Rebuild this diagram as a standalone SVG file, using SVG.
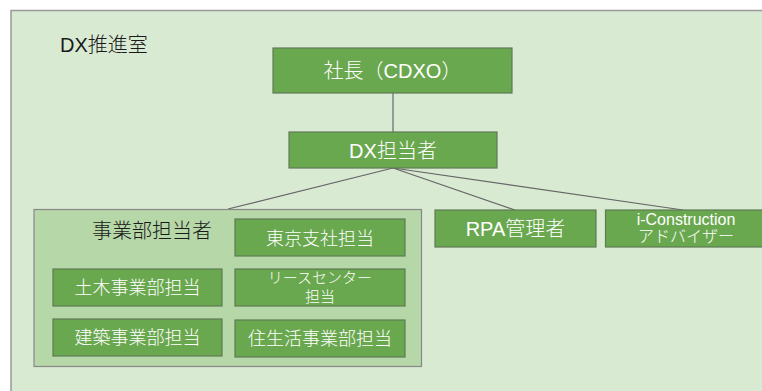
<svg xmlns="http://www.w3.org/2000/svg" width="762" height="391" viewBox="0 0 762 391">
<style>
.t{font-family:"Liberation Sans","Noto Sans CJK JP",sans-serif;font-weight:300;}
.box{fill:#6aa84f;stroke:#5f7a55;stroke-width:1.2;}
.w{fill:#ffffff;text-anchor:middle;}
.conn{stroke:#666666;stroke-width:1.2;fill:none;}
</style>
<rect x="0" y="0" width="762" height="391" fill="#ffffff"/>
<g id="frame">
<rect x="11" y="10.5" width="760" height="390" fill="#d9ead3" stroke="#999999" stroke-width="1.5"/>
<text class="t" x="60" y="52" font-size="20" fill="#1a1a1a">DX推進室</text>
</g>
<g id="connectors">
<line class="conn" x1="393" y1="93" x2="393" y2="132"/>
<line class="conn" x1="393" y1="168" x2="228" y2="209"/>
<line class="conn" x1="393" y1="168" x2="515" y2="210"/>
<line class="conn" x1="393" y1="168" x2="683" y2="210"/>
</g>
<g id="ceo">
<rect class="box" x="273" y="48" width="239" height="45"/>
<text class="t w" x="392.5" y="78" font-size="20">社長（CDXO）</text>
</g>
<g id="dx">
<rect class="box" x="289" y="132" width="208" height="36"/>
<text class="t w" x="393" y="158" font-size="20">DX担当者</text>
</g>
<g id="business">
<rect x="34" y="209.5" width="387.5" height="157" fill="#b6d7a8" stroke="#888888" stroke-width="1.2"/>
<text class="t" x="152" y="238" font-size="20" fill="#1a1a1a" text-anchor="middle">事業部担当者</text>
</g>
<g id="tokyo">
<rect class="box" x="235" y="219" width="170" height="37"/>
<text class="t w" x="320" y="245" font-size="18">東京支社担当</text>
</g>
<g id="doboku">
<rect class="box" x="53" y="269" width="169" height="37"/>
<text class="t w" x="137.5" y="294" font-size="18">土木事業部担当</text>
</g>
<g id="lease">
<rect class="box" x="235" y="269" width="170" height="37"/>
<text class="t w" x="320" y="283" font-size="15">リースセンター</text>
<text class="t w" x="320" y="302" font-size="15">担当</text>
</g>
<g id="kenchiku">
<rect class="box" x="53" y="319" width="169" height="37"/>
<text class="t w" x="137.5" y="344" font-size="18">建築事業部担当</text>
</g>
<g id="jyuseikatsu">
<rect class="box" x="235" y="320" width="170" height="37"/>
<text class="t w" x="320" y="344.5" font-size="18">住生活事業部担当</text>
</g>
<g id="rpa">
<rect class="box" x="435" y="210" width="161" height="37"/>
<text class="t w" x="515.5" y="236" font-size="20">RPA管理者</text>
</g>
<g id="icon">
<rect class="box" x="605.5" y="210" width="162" height="37"/>
<text class="t w" x="686" y="224.5" font-size="16">i-Construction</text>
<text class="t w" x="686" y="242" font-size="16">アドバイザー</text>
</g>
</svg>
